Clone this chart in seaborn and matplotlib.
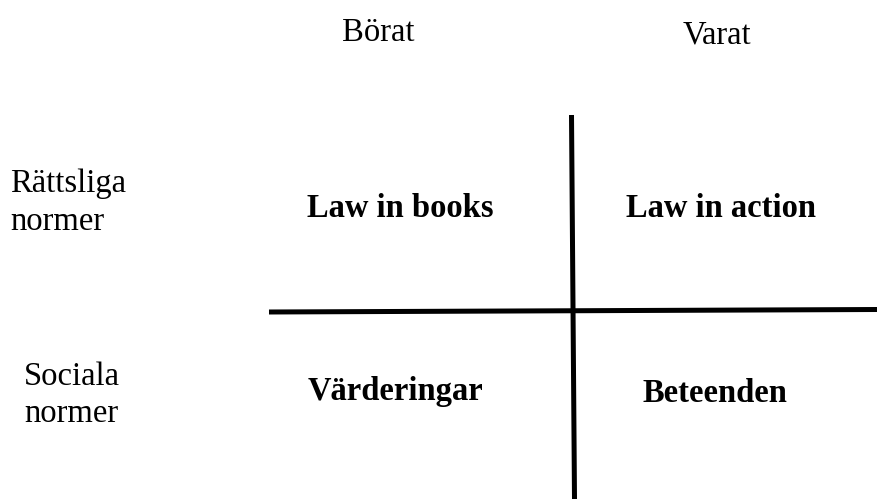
import matplotlib.pyplot as plt
import seaborn as sns

# kolumner och rader i fyrfältsdiagrammet
col_labels = ["Börat", "Varat"]
row_labels = [["Rättsliga", "normer"], ["Sociala", "normer"]]
cells = [["Law in books", "Law in action"],
         ["Värderingar", "Beteenden"]]

sns.set_theme(style="white")
plt.rcParams["font.family"] = ["Liberation Serif", "DejaVu Serif"]
plt.rcParams["text.color"] = "black"

fig = plt.figure(figsize=(8.77, 4.99), dpi=100)
ax = fig.add_axes([0, 0, 1, 1])
ax.set_xlim(0, 877)
ax.set_ylim(499, 0)
ax.axis("off")

FS = 23.5

# placering i pixlar (baslinjer)
col_x = [378, 717]
col_base = [41, 43]
row_x = [10, 24]
row_base = [[192, 230], [385, 422]]
cell_x = [[400, 721], [396, 715]]
cell_base = [[217, 217], [400, 402]]

for lab, x, y in zip(col_labels, col_x, col_base):
    ax.text(x, y, lab, ha="center", va="baseline", fontsize=FS)

for lines, x, ys in zip(row_labels, row_x, row_base):
    for line, y in zip(lines, ys):
        ax.text(x, y, line, ha="left", va="baseline", fontsize=FS)

for i, row in enumerate(cells):
    for j, lab in enumerate(row):
        ax.text(cell_x[i][j], cell_base[i][j], lab, ha="center", va="baseline",
                fontsize=FS, fontweight="bold")

# korset
ax.plot([571.5, 574.5], [115, 499], color="black", lw=3.6, solid_capstyle="butt")
ax.plot([269, 877], [312, 309.5], color="black", lw=3.6, solid_capstyle="butt")

fig.savefig("out.png", dpi=100)
